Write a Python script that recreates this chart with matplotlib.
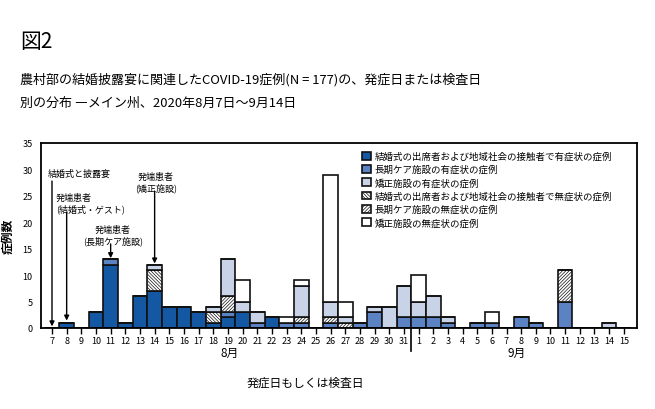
import matplotlib.pyplot as plt
import numpy as np

plt.rcParams['font.family'] = ['Noto Sans CJK JP', 'DejaVu Sans']
plt.rcParams['hatch.linewidth'] = 0.5

# Data: days Aug 7 .. Sep 15
day_labels = [str(d) for d in range(7, 32)] + [str(d) for d in range(1, 16)]
n = len(day_labels)

def series(values):
    arr = np.zeros(n)
    for idx, v in values.items():
        arr[idx] = v
    return arr

# index helper: Aug d -> d-7, Sep d -> 24+d
def aug(d):
    return d - 7

def sep(d):
    return 24 + d

wedding_sym = series({aug(8): 1, aug(10): 3, aug(11): 12, aug(12): 1, aug(13): 6, aug(14): 7,
                      aug(15): 4, aug(16): 4, aug(17): 3, aug(18): 1, aug(19): 2, aug(20): 3,
                      aug(22): 2})
ltc_sym = series({aug(11): 1, aug(19): 1, aug(21): 1, aug(23): 1, aug(24): 1, aug(26): 1,
                  aug(28): 1, aug(29): 3, aug(31): 2, sep(1): 2, sep(2): 2, sep(3): 1,
                  sep(5): 1, sep(6): 1, sep(8): 2, sep(9): 1, sep(11): 5})
corr_sym = series({aug(14): 1, aug(18): 1, aug(19): 7, aug(20): 2, aug(21): 2, aug(24): 6,
                   aug(26): 3, aug(27): 1, aug(29): 1, aug(30): 4, aug(31): 6, sep(1): 3,
                   sep(2): 4, sep(3): 1, sep(14): 1})
wedding_asym = series({aug(14): 4, aug(18): 2})
ltc_asym = series({aug(19): 3, aug(24): 1, aug(26): 1, aug(27): 1, sep(11): 6})
corr_asym = series({aug(20): 4, aug(23): 1, aug(24): 1, aug(26): 24, aug(27): 3, sep(1): 5,
                    sep(6): 2})

legend_labels = ['結婚式の出席者および地域社会の接触者で有症状の症例',
                 '長期ケア施設の有症状の症例',
                 '矯正施設の有症状の症例',
                 '結婚式の出席者および地域社会の接触者で無症状の症例',
                 '長期ケア施設の無症状の症例',
                 '矯正施設の無症状の症例']

W, H = 655, 410
fig = plt.figure(figsize=(W / 100, H / 100), dpi=100)
ax = fig.add_axes([41 / W, (H - 329) / H, (637 - 41) / W, (329 - 144) / H])

x = np.arange(n)
# order of stacking as in the picture
stack = [
    (wedding_sym, '#1458a3', None, 0),
    (ltc_sym, '#5b82c2', None, 1),
    (wedding_asym, 'white', '\\' * 10, 3),
    (ltc_asym, 'white', '/' * 10, 4),
    (corr_sym, '#c9d3e8', None, 2),
    (corr_asym, 'white', None, 5),
]
bottom = np.zeros(n)
handles = [None] * 6
for vals, col, hatch, li in stack:
    b = ax.bar(x, vals, width=1.0, bottom=bottom, color=col, edgecolor='#111111',
               linewidth=1.2, hatch=hatch, label=legend_labels[li])
    handles[li] = b
    bottom = bottom + vals

ax.set_xlim(-0.75, n - 1 + 0.9)
ax.set_ylim(0, 35)
ax.set_yticks(range(0, 36, 5))
ax.set_xticks(x)
ax.set_xticklabels(day_labels)
ax.tick_params(axis='x', direction='out', length=4, width=1, labelsize=6.5, pad=2)
ax.tick_params(axis='y', length=0, labelsize=6.5, pad=6)
for s in ax.spines.values():
    s.set_linewidth(1.3)
ax.set_ylabel('症例数', fontsize=8.5, fontweight='bold', labelpad=6)

# month divider
ax.plot([24.5, 24.5], [0, -4.4], color='black', lw=1.2, clip_on=False)
ax.text(aug(19) + 0.1, -4.6, '8月', ha='center', va='center', fontsize=8.5)
ax.text(31.7, -4.6, '9月', ha='center', va='center', fontsize=8.5)
ax.text(17.25, -10.2, '発症日もしくは検査日', ha='center', va='center', fontsize=8.5)

# annotations: text plus vertical arrows
arrow = dict(arrowstyle='-|>', color='black', lw=1.0, mutation_scale=7, shrinkA=0, shrinkB=0)
ax.text(-0.27, 29.3, '結婚式と披露宴', ha='left', va='center', fontsize=6.5)
ax.annotate('', xy=(aug(7), 0.3), xytext=(aug(7), 27.8), arrowprops=arrow)
ax.text(0.27, 23.6, '発端患者\n(結婚式・ゲスト)', ha='left', va='center', fontsize=6.5,
        linespacing=1.15)
ax.annotate('', xy=(aug(8), 1.4), xytext=(aug(8), 21.9), arrowprops=arrow)
ax.text(4.15, 17.6, '発端患者\n(長期ケア施設)', ha='center', va='center', fontsize=6.5,
        linespacing=1.15)
ax.annotate('', xy=(aug(11), 13.2), xytext=(aug(11), 15.9), arrowprops=arrow)
ax.text(7.1, 27.6, '発端患者\n(矯正施設)', ha='center', va='center', fontsize=6.5,
        linespacing=1.15)
ax.annotate('', xy=(aug(14), 12.2), xytext=(aug(14), 25.9), arrowprops=arrow)

ax.legend(handles=handles, loc='upper left', bbox_to_anchor=(0.533, 0.975), frameon=False,
          fontsize=6.8, handlelength=0.9, handleheight=0.9, handletextpad=0.4,
          labelspacing=0.4, borderaxespad=0)

fig.text(20 / W, 1 - 42 / H, '図2', fontsize=15, va='center', ha='left')
fig.text(20 / W, 1 - 80 / H, '農村部の結婚披露宴に関連したCOVID-19症例(N = 177)の、発症日または検査日',
         fontsize=9.4, va='center', ha='left')
fig.text(20 / W, 1 - 103 / H, '別の分布 ―メイン州、2020年8月7日～9月14日',
         fontsize=9.4, va='center', ha='left')

fig.savefig('out.png', dpi=100)
